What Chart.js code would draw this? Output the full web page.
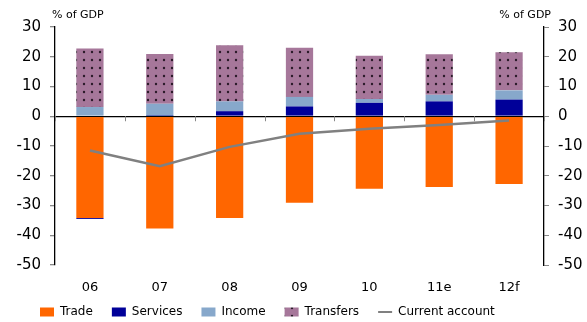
<!DOCTYPE html>
<html>
<head>
<meta charset="utf-8">
<script src="https://cdn.jsdelivr.net/npm/chart.js@4.4.1/dist/chart.umd.min.js"></script>
<style>
  html, body { margin: 0; padding: 0; background: #fff; }
  #wrap { width: 587px; height: 322px; }
</style>
</head>
<body>
<div id="wrap"><canvas id="myChart" width="587" height="322"></canvas></div>
<script>
const years = ["06", "07", "08", "09", "10", "11e", "12f"];
const trade = [-34.2, -37.7, -34.2, -29.1, -24.4, -23.8, -22.8];
const services = [-0.3, 0.1, 1.7, 3.3, 4.5, 5.0, 5.6];
const income = [3.1, 4.1, 3.3, 3.2, 1.3, 2.2, 3.1];
const transfers = [19.7, 16.7, 18.9, 16.5, 14.5, 13.6, 12.8];
const currentAccount = [-11.5, -16.8, -10.3, -5.9, -4.2, -2.9, -1.4];
const yTicks = [30, 20, 10, 0, -10, -20, -30, -40, -50];

const FONT = "'DejaVu Sans', Verdana, sans-serif";

/* dotted fill for transfers */
function dotPattern() {
  const c = document.createElement("canvas");
  c.width = 8;
  c.height = 8;
  const p = c.getContext("2d");
  p.fillStyle = "#a6779a";
  p.fillRect(0, 0, 8, 8);
  p.fillStyle = "#2a1a28";
  p.beginPath();
  p.arc(4, 4, 1.2, 0, Math.PI * 2);
  p.fill();
  return document.getElementById("myChart").getContext("2d").createPattern(c, "repeat");
}
const transfersFill = dotPattern();

/* "% of GDP" above both axes, small ticks along the zero line,
   legend pulled up closer to the category labels */
const decorations = {
  id: "decorations",
  afterLayout(chart) {
    const legend = chart.legend;
    legend.left += 21;
    legend.right += 21;
    legend.top -= 13;
  },
  afterDraw(chart) {
    const ctx = chart.ctx;
    const x = chart.scales.x;
    const y = chart.scales.y;
    ctx.save();
    ctx.fillStyle = "#000";
    ctx.font = "11px " + FONT;
    ctx.textBaseline = "middle";
    ctx.textAlign = "left";
    ctx.fillText("% of GDP", x.left - 3, 15);
    ctx.textAlign = "right";
    ctx.fillText("% of GDP", x.right + 7, 15);

    const zero = y.getPixelForValue(0);
    const step = x.width / years.length;
    ctx.strokeStyle = "#888";
    ctx.lineWidth = 1;
    for (let i = 0; i <= years.length; i++) {
      const px = Math.round(x.left + i * step) + 0.5;
      ctx.beginPath();
      ctx.moveTo(px, zero);
      ctx.lineTo(px, zero + 5);
      ctx.stroke();
    }
    ctx.restore();
  },
};

const barDataset = (label, data, color) => ({
  type: "bar",
  label: label,
  data: data,
  backgroundColor: color,
  borderWidth: 0,
  stack: "ca",
  order: 1,
  barPercentage: 1,
  categoryPercentage: 0.39,
});

const ctx = document.getElementById("myChart").getContext("2d");
const myChart = new Chart(ctx, {
  data: {
    labels: years,
    datasets: [
      barDataset("Trade", trade, "#ff6600"),
      barDataset("Services", services, "#000099"),
      barDataset("Income", income, "#87a8cb"),
      barDataset("Transfers", transfers, transfersFill),
      {
        type: "line",
        label: "Current account",
        data: currentAccount,
        borderColor: "#808080",
        borderWidth: 2.5,
        pointRadius: 0,
        tension: 0,
        order: 0,
      },
    ],
  },
  options: {
    responsive: false,
    animation: false,
    layout: { padding: { top: 27, left: 0, right: 0, bottom: 0 } },
    plugins: {
      tooltip: { enabled: false },
      legend: {
        position: "bottom",
        align: "start",
        maxHeight: 22,
        labels: {
          font: { family: FONT, size: 12 },
          color: "#000",
          usePointStyle: true,
          pointStyleWidth: 14,
          boxWidth: 14,
          boxHeight: 9,
          padding: 19,
          generateLabels(chart) {
            return chart.data.datasets.map((ds, i) => ({
              text: ds.label,
              datasetIndex: i,
              fillStyle: ds.type === "line" ? "transparent" : ds.backgroundColor,
              strokeStyle: ds.type === "line" ? ds.borderColor : "transparent",
              lineWidth: ds.type === "line" ? 2 : 0,
              pointStyle: ds.type === "line" ? "line" : "rect",
              fontColor: "#000",
              hidden: false,
            }));
          },
        },
      },
    },
    scales: {
      x: {
        stacked: true,
        grid: { display: false, drawTicks: false },
        border: { display: false },
        ticks: {
          font: { family: FONT, size: 13 },
          color: "#000",
          padding: 15,
          maxRotation: 0,
        },
        afterFit(scale) {
          scale.height = 35;
        },
      },
      y: {
        stacked: true,
        position: "left",
        min: -50,
        max: 30,
        afterBuildTicks(scale) {
          scale.ticks = yTicks.map((v) => ({ value: v }));
        },
        ticks: {
          font: { family: FONT, size: 15 },
          color: "#000",
          padding: 9,
        },
        grid: {
          color: (c) => (c.tick && c.tick.value === 0 ? "#000" : "transparent"),
          lineWidth: 1.3,
          tickColor: "#888",
          tickLength: 5,
        },
        border: { color: "#000", width: 1.3 },
        afterFit(scale) {
          scale.width = 55;
        },
      },
      y2: {
        position: "right",
        min: -50,
        max: 30,
        afterBuildTicks(scale) {
          scale.ticks = yTicks.map((v) => ({ value: v }));
        },
        ticks: {
          font: { family: FONT, size: 15 },
          color: "#000",
          padding: 9,
        },
        grid: {
          drawOnChartArea: false,
          tickColor: "#888",
          tickLength: 5,
        },
        border: { color: "#000", width: 1.3 },
        afterFit(scale) {
          scale.width = 43;
        },
      },
    },
  },
  plugins: [decorations],
});
</script>
</body>
</html>
